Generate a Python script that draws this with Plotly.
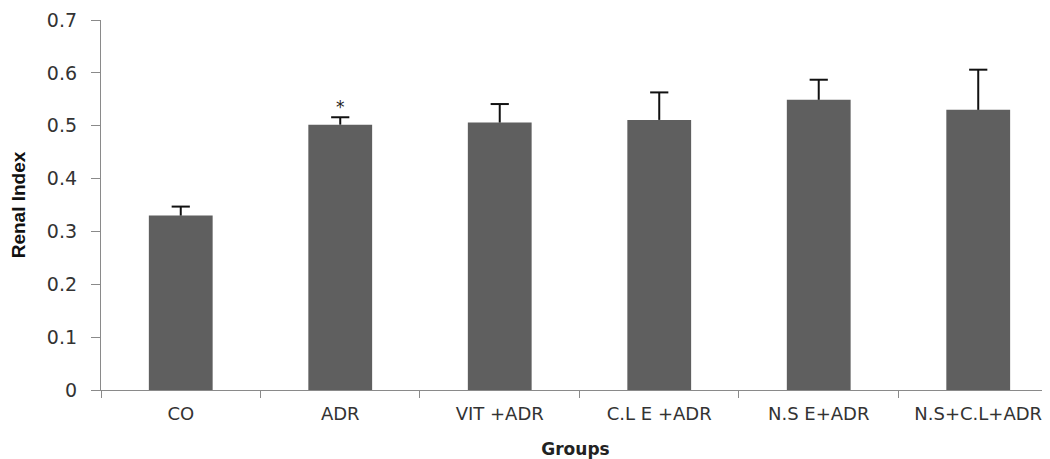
import plotly.graph_objects as go

groups = ["CO", "ADR", "VIT +ADR", "C.L E +ADR", "N.S E+ADR", "N.S+C.L+ADR"]
renal_index = [0.330, 0.502, 0.506, 0.511, 0.549, 0.530]
sem = [0.017, 0.014, 0.035, 0.052, 0.038, 0.076]
marks = ["", "*", "", "", "", ""]
y_ticks = [0, 0.1, 0.2, 0.3, 0.4, 0.5, 0.6, 0.7]
y_ticklabels = ["0", "0.1", "0.2", "0.3", "0.4", "0.5", "0.6", "0.7"]

upper = [v + e for v, e in zip(renal_index, sem)]

fig = go.Figure()
fig.add_trace(go.Bar(
    x=groups, y=renal_index,
    marker=dict(color="#5f5f5f", line=dict(width=0)),
    error_y=dict(type="data", array=sem, symmetric=False, arrayminus=[0] * len(sem),
                 color="#111111", thickness=2, width=0),
    width=0.4,
))
# caps on top of the error bars only
fig.add_trace(go.Scatter(
    x=groups, y=upper, mode="markers",
    marker=dict(symbol="line-ew", size=13, line=dict(color="#111111", width=2)),
    hoverinfo="skip",
))

for g, u, m in zip(groups, upper, marks):
    if m:
        fig.add_annotation(x=g, y=u, text=m, showarrow=False, yshift=10,
                           font=dict(family="DejaVu Sans", size=17, color="#222"))

fig.update_layout(
    width=1042, height=451,
    margin=dict(l=93, r=0, t=12, b=69),
    paper_bgcolor="white", plot_bgcolor="white",
    showlegend=False,
    xaxis=dict(
        range=[-0.5, 5.45], automargin=False,
        showline=True, linecolor="#8a8a8a", linewidth=1.3,
        ticks="outside", tickson="boundaries", ticklen=7, tickcolor="#8a8a8a",
        tickfont=dict(family="DejaVu Sans", size=18, color="#333"),
        ticklabelstandoff=7,
        title=dict(text="<b>Groups</b>", font=dict(family="DejaVu Sans", size=17, color="#222"), standoff=21),
        showgrid=False,
    ),
    yaxis=dict(
        range=[0, 0.7], tickvals=y_ticks, ticktext=y_ticklabels, automargin=False,
        showline=True, linecolor="#8a8a8a", linewidth=1.3,
        ticks="outside", ticklen=9, tickcolor="#8a8a8a",
        tickfont=dict(family="DejaVu Sans", size=19, color="#333"),
        ticklabelstandoff=10,
        title=dict(text="<b>Renal Index</b>", font=dict(family="Liberation Sans", size=19, color="#111"), standoff=22),
        showgrid=False, zeroline=False,
    ),
)

fig.write_html("out.html")
